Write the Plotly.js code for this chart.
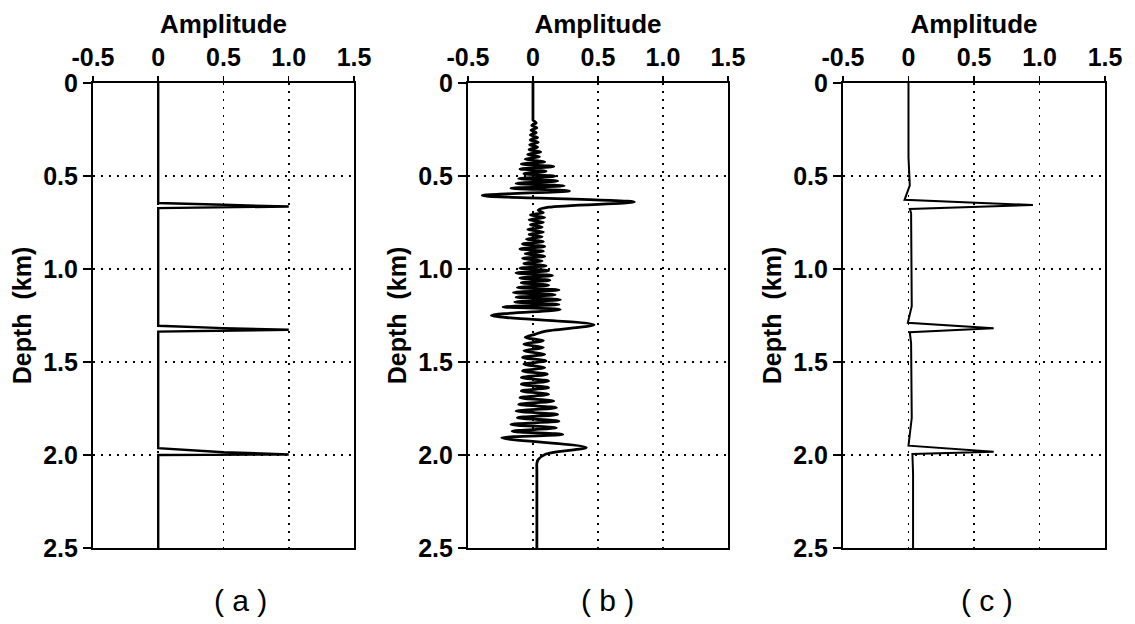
<!DOCTYPE html>
<html>
<head>
<meta charset="utf-8">
<script src="https://cdn.plot.ly/plotly-3.0.1.min.js"></script>
<style>html,body{margin:0;padding:0;background:#fff;}#chart{width:1135px;height:624px;}</style>
</head>
<body>
<div id="chart"></div>
<script>
// ---- Data ----
const xTickVals = [-0.5, 0, 0.5, 1.0, 1.5];
const xTickText = ["-0.5", "0", "0.5", "1.0", "1.5"];
const yTickVals = [0, 0.5, 1.0, 1.5, 2.0, 2.5];
const yTickText = ["0", "0.5", "1.0", "1.5", "2.0", "2.5"];
const panelLabels = ["( a )", "( b )", "( c )"];

// (a) true reflectivity
const aDepth = [0, 0.645, 0.655, 0.664, 0.673, 1.305, 1.318, 1.327, 1.337, 1.963, 1.985, 1.997, 2.0, 2.5];
const aAmp   = [0, 0,     0.5,   1.0,   0,     0,     0.5,   1.0,   0,     0,     0.5,   1.0,   0,   0];

// (b) recorded trace
const bDepth = [0.00, 0.10, 0.19, 0.20, 0.215, 0.228, 0.241, 0.254, 0.267, 0.280, 0.293, 0.306, 0.319, 0.332, 0.345, 0.358, 0.371, 0.384, 0.397,
  0.410, 0.423, 0.436, 0.449, 0.462, 0.475, 0.488, 0.501, 0.514, 0.527, 0.540, 0.553, 0.566, 0.580, 0.605, 0.640, 0.668, 0.684,
  0.697, 0.710, 0.723, 0.736, 0.749, 0.762, 0.775, 0.788, 0.801, 0.814, 0.827, 0.840, 0.853, 0.866, 0.879, 0.892, 0.905, 0.918,
  0.931, 0.944, 0.957, 0.970, 0.983, 0.996, 1.009, 1.022, 1.035, 1.048, 1.061, 1.074, 1.087, 1.100, 1.113, 1.126, 1.139, 1.152,
  1.165, 1.178, 1.191, 1.204, 1.218, 1.250, 1.300, 1.335, 1.350, 1.368, 1.386, 1.404, 1.422, 1.440, 1.458, 1.476, 1.494, 1.512,
  1.530, 1.548, 1.566, 1.584, 1.602, 1.620, 1.638, 1.656, 1.674, 1.692, 1.710, 1.728, 1.746, 1.764, 1.782, 1.800, 1.818, 1.836,
  1.854, 1.872, 1.890, 1.908, 1.960, 1.995, 2.025, 2.045, 2.08, 2.30, 2.50];
const bAmp = [0.00, 0.00, 0.00, 0.00, 0.025, -0.01, 0.03, -0.015, 0.025, -0.02, 0.035, -0.02, 0.04, -0.025, 0.035, -0.03, 0.06, -0.04, 0.05,
  -0.06, 0.09, -0.09, 0.16, -0.10, 0.10, -0.07, 0.17, -0.11, 0.19, -0.13, 0.24, -0.17, 0.28, -0.39, 0.78, 0.12, 0.04,
  0.08, -0.02, 0.09, -0.03, 0.08, -0.02, 0.07, -0.04, 0.08, -0.03, 0.07, -0.05, 0.08, -0.08, 0.09, -0.10, 0.08, -0.06,
  0.09, -0.08, 0.07, -0.07, 0.10, -0.10, 0.12, -0.13, 0.15, -0.10, 0.13, -0.09, 0.12, -0.12, 0.20, -0.15, 0.17, -0.13,
  0.21, -0.14, 0.20, -0.23, 0.21, -0.32, 0.47, 0.09, 0.02, -0.06, 0.08, -0.07, 0.08, -0.07, 0.09, -0.08, 0.10, -0.07,
  0.09, -0.08, 0.11, -0.09, 0.12, -0.09, 0.12, -0.09, 0.12, -0.10, 0.16, -0.11, 0.18, -0.13, 0.19, -0.12, 0.20, -0.17,
  0.18, -0.16, 0.23, -0.24, 0.41, 0.10, 0.04, 0.03, 0.03, 0.03, 0.03];

// (c) deconvolved result
const cDepth = [0, 0.40, 0.55, 0.628, 0.656, 0.677, 0.70, 1.00, 1.20, 1.289, 1.318, 1.340, 1.40, 1.80, 1.950, 1.982, 1.995, 2.10, 2.50];
const cAmp   = [0, 0.00, 0.01, -0.03, 0.95,  0.01,  0.02, 0.025, 0.025, -0.005, 0.65, 0.01, 0.02, 0.025, 0.00, 0.65, 0.03, 0.035, 0.035];

// ---- Figure ----
const fontFam = '"Liberation Sans", Arial, Helvetica, sans-serif';
const traces = [
  {x: aAmp, y: aDepth, xaxis: 'x', yaxis: 'y', mode: 'lines', line: {color: '#000', width: 2.4}, hoverinfo: 'x+y'},
  {x: bAmp, y: bDepth, xaxis: 'x2', yaxis: 'y2', mode: 'lines', line: {color: '#000', width: 2.8, shape: 'spline', smoothing: 0.9}, hoverinfo: 'x+y'},
  {x: cAmp, y: cDepth, xaxis: 'x3', yaxis: 'y3', mode: 'lines', line: {color: '#000', width: 2.0}, hoverinfo: 'x+y'}
];

const xDomains = [[0.0819, 0.3119], [0.4123, 0.6414], [0.7427, 0.9736]];
const yDomain = [0.1218, 0.867];

function xAxis(i) {
  return {
    domain: xDomains[i], range: [-0.5, 1.5], side: 'top', anchor: i === 0 ? 'y' : 'y' + (i + 1),
    tickmode: 'array', tickvals: xTickVals, ticktext: xTickText,
    ticks: 'outside', ticklen: 5, tickwidth: 1.5, tickcolor: '#000',
    showline: true, linecolor: '#000', linewidth: 2, mirror: true,
    showgrid: true, gridcolor: '#000', gridwidth: 1.6, griddash: '2px,6px',
    zeroline: false, fixedrange: true,
    tickfont: {family: fontFam, size: 25, color: '#000', weight: 'bold'},
    title: {text: 'Amplitude', font: {family: fontFam, size: 26, color: '#000', weight: 'bold'}, standoff: 2}
  };
}
function yAxis(i) {
  return {
    domain: yDomain, range: [2.5, 0], anchor: i === 0 ? 'x' : 'x' + (i + 1),
    tickmode: 'array', tickvals: yTickVals, ticktext: yTickText,
    ticks: 'outside', ticklen: 8, tickwidth: 1.5, tickcolor: '#000',
    showline: true, linecolor: '#000', linewidth: 2, mirror: true,
    showgrid: true, gridcolor: '#000', gridwidth: 1.6, griddash: '2px,6px',
    zeroline: false, fixedrange: true,
    tickfont: {family: fontFam, size: 25, color: '#000', weight: 'bold'},
    title: {text: 'Depth  (km)', font: {family: fontFam, size: 25, color: '#000', weight: 'bold'}, standoff: 4}
  };
}

const layout = {
  width: 1135, height: 624,
  margin: {l: 0, r: 0, t: 0, b: 0},
  paper_bgcolor: '#fff', plot_bgcolor: '#fff',
  showlegend: false,
  xaxis: xAxis(0), xaxis2: xAxis(1), xaxis3: xAxis(2),
  yaxis: yAxis(0), yaxis2: yAxis(1), yaxis3: yAxis(2),
  annotations: panelLabels.map((t, i) => ({
    text: t, xref: 'paper', yref: 'paper',
    x: [240, 607, 987][i] / 1135, y: 1 - 600 / 624,
    xanchor: 'center', yanchor: 'middle', showarrow: false,
    font: {family: fontFam, size: 30, color: '#000'}
  }))
};

Plotly.newPlot('chart', traces, layout, {staticPlot: true, displayModeBar: false});
</script>
</body>
</html>
